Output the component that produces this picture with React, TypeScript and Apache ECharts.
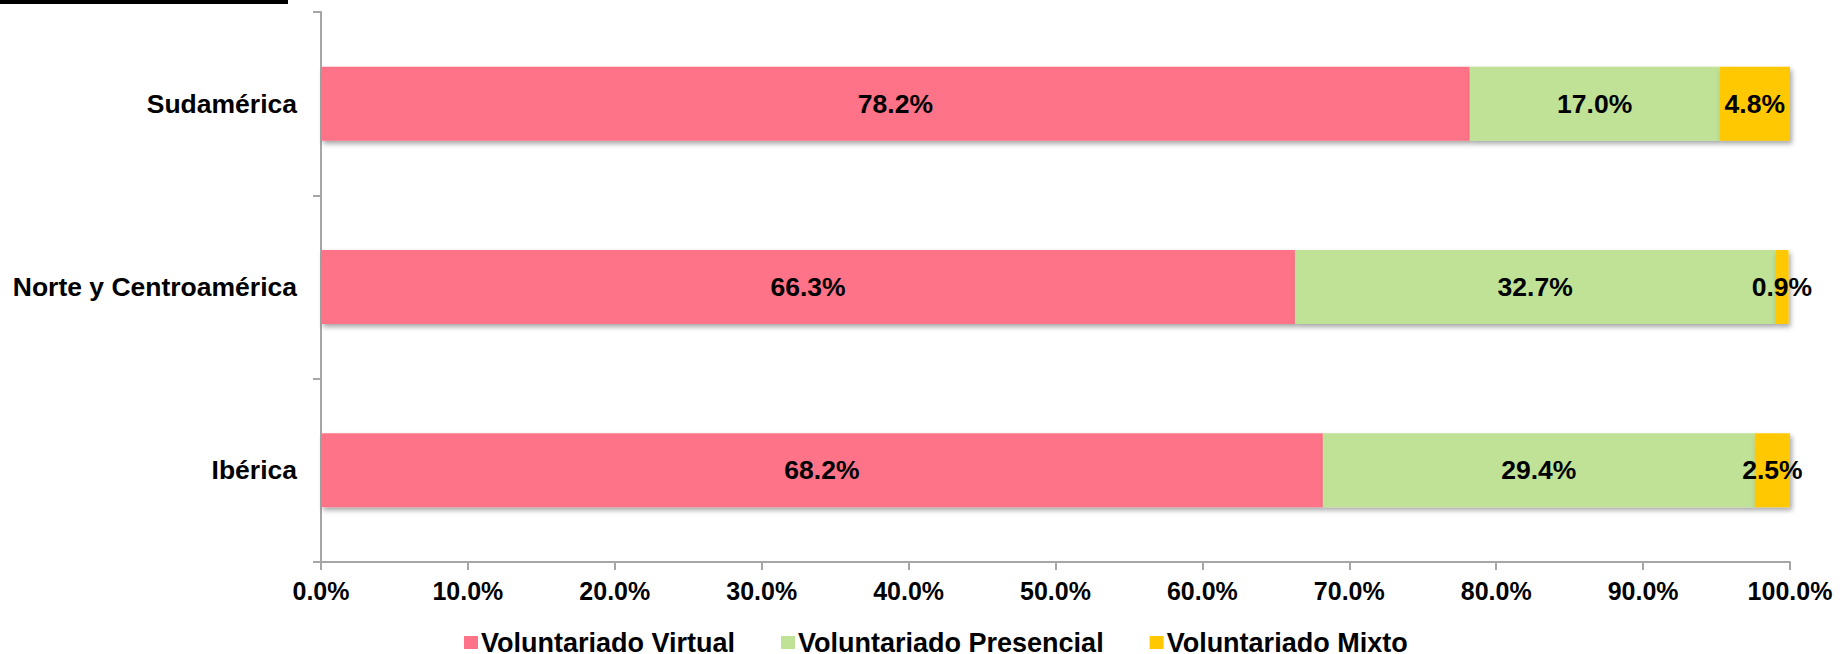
import React, { useEffect, useRef } from "react";
import * as echarts from "echarts";

const categories = ["Ibérica", "Norte y Centroamérica", "Sudamérica"];
const seriesNames = ["Voluntariado Virtual", "Voluntariado Presencial", "Voluntariado Mixto"];
const virtualValues = [68.2, 66.3, 78.2];
const presencialValues = [29.4, 32.7, 17.0];
const mixtoValues = [2.5, 0.9, 4.8];
const seriesColors = ["#FF7388", "#BFE296", "#FFC800"];

const FONT = "Liberation Sans, Arial, sans-serif";

export default function App() {
  const ref = useRef<HTMLDivElement>(null);
  useEffect(() => {
    if (!ref.current) return;
    const chart = echarts.init(ref.current, undefined, { renderer: "svg" });
    const values = [virtualValues, presencialValues, mixtoValues];
    chart.setOption({
      animation: false,
      backgroundColor: "#ffffff",
      textStyle: { fontFamily: FONT },
      graphic: [
        { type: "rect", shape: { x: 0, y: 0, width: 288, height: 4 }, style: { fill: "#000000" } },
      ],
      legend: {
        left: 459,
        top: 624,
        itemWidth: 14,
        itemHeight: 13,
        itemGap: 46,
        icon: "rect",
        textStyle: { fontFamily: FONT, fontSize: 27, fontWeight: "bold", color: "#000", padding: [0, 0, 0, -2] },
        data: seriesNames,
      },
      grid: { left: 321, right: 51, top: 12, bottom: 92, containLabel: false },
      xAxis: {
        type: "value",
        min: 0,
        max: 100,
        interval: 10,
        axisLine: { show: true, lineStyle: { color: "#A6A6A6", width: 2 } },
        axisTick: { show: true, length: 8, lineStyle: { color: "#A6A6A6", width: 2 } },
        splitLine: { show: false },
        axisLabel: {
          formatter: (v: number) => v.toFixed(1) + "%",
          fontFamily: FONT,
          fontSize: 25,
          fontWeight: "bold",
          color: "#000",
          margin: 16,
        },
      },
      yAxis: {
        type: "category",
        data: categories,
        axisLine: { show: true, lineStyle: { color: "#A6A6A6", width: 2 } },
        axisTick: { show: true, length: 8, lineStyle: { color: "#A6A6A6", width: 2 } },
        axisLabel: {
          fontFamily: FONT,
          fontSize: 26.5,
          fontWeight: "bold",
          color: "#000",
          margin: 24,
        },
      },
      series: seriesNames.map((name, i) => ({
        name,
        type: "bar",
        stack: "total",
        barWidth: 74,
        data: values[i],
        itemStyle: {
          color: seriesColors[i],
          shadowColor: "rgba(0,0,0,0.35)",
          shadowBlur: 5,
          shadowOffsetX: 2,
          shadowOffsetY: 3,
        },
        label: {
          show: true,
          position: "inside",
          formatter: (p: any) => Number(p.value).toFixed(1) + "%",
          fontFamily: FONT,
          fontSize: 26.5,
          fontWeight: "bold",
          color: "#000",
        },
      })),
    });
    return () => chart.dispose();
  }, []);
  return (
    <div
      ref={ref}
      style={{ position: "absolute", left: 0, top: 0, width: 1841, height: 654 }}
    />
  );
}
